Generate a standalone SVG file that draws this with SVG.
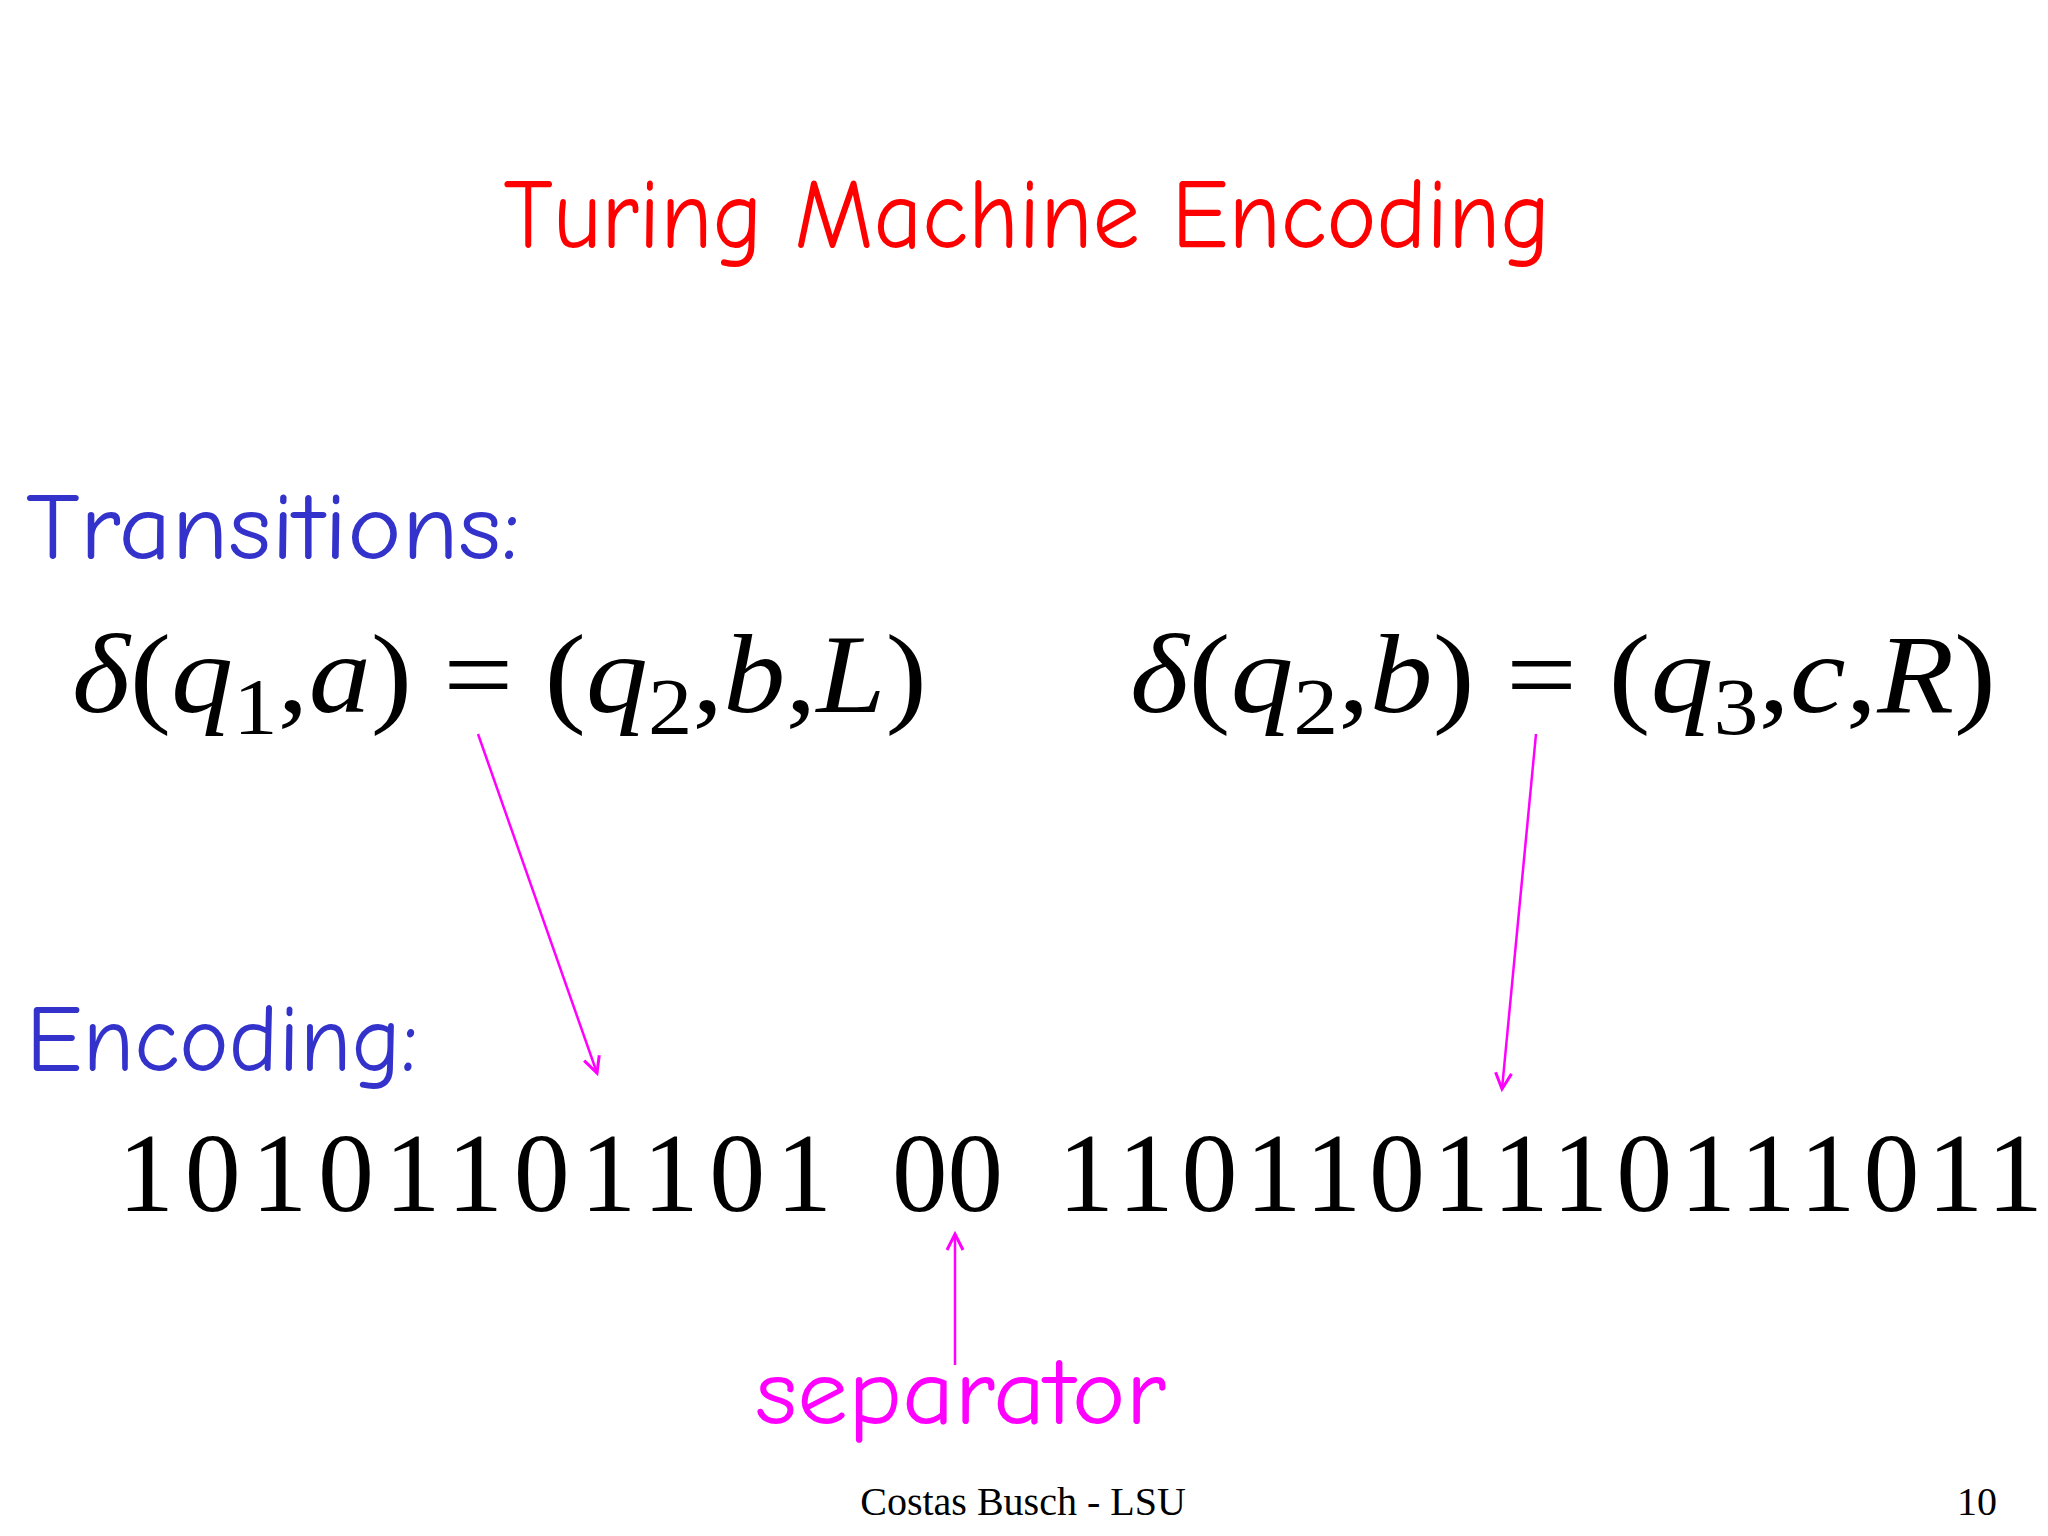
<svg xmlns="http://www.w3.org/2000/svg" width="2048" height="1536" viewBox="0 0 2048 1536">
<defs>
<marker id="ah" markerWidth="22" markerHeight="22" refX="18" refY="11" orient="auto" markerUnits="userSpaceOnUse" viewBox="0 0 22 22">
<path d="M2,3 L18,11 L2,19" fill="none" stroke="#ff00ff" stroke-width="3"/>
</marker>
<style>
.hand{font-family:"Comic Neue","Lato","Open Sans",sans-serif}
.m{font-family:"Liberation Serif",serif;font-style:italic;font-size:112px;fill:#000}
.up{font-style:normal}
.sub{font-size:80px;font-style:normal}
.bin{font-family:"Liberation Serif",serif;font-size:112px;fill:#000}
</style>
</defs>
<rect width="2048" height="1536" fill="#fff"/>
<g id="title"><text class="hand" x="1027" y="248" font-size="100" fill="#ff0000" text-anchor="middle" textLength="1047" lengthAdjust="spacingAndGlyphs">Turing Machine Encoding</text></g>
<g id="transitions"><text class="hand" x="26" y="559" font-size="96" fill="#3333cc" textLength="494" lengthAdjust="spacingAndGlyphs">Transitions:</text></g>
<g id="t1"><text class="m" x="72" y="712" textLength="855" lengthAdjust="spacingAndGlyphs">δ<tspan class="up">(</tspan>q<tspan class="sub" dy="22">1</tspan><tspan class="up" dy="-22">,</tspan>a<tspan class="up">) = (</tspan>q<tspan class="sub" dy="22">2</tspan><tspan class="up" dy="-22">,</tspan>b<tspan class="up">,</tspan>L<tspan class="up">)</tspan></text></g>
<g id="t2"><text class="m" x="1130" y="712" textLength="866" lengthAdjust="spacingAndGlyphs">δ<tspan class="up">(</tspan>q<tspan class="sub" dy="22">2</tspan><tspan class="up" dy="-22">,</tspan>b<tspan class="up">) = (</tspan>q<tspan class="sub" dy="22">3</tspan><tspan class="up" dy="-22">,</tspan>c<tspan class="up">,</tspan>R<tspan class="up">)</tspan></text></g>
<g id="encoding"><text class="hand" x="26" y="1071" font-size="96" fill="#3333cc" textLength="392" lengthAdjust="spacingAndGlyphs">Encoding:</text></g>
<g id="binary">
<text class="bin" x="118" y="1211" textLength="714" lengthAdjust="spacing">10101101101</text>
<text class="bin" x="892" y="1211" textLength="111" lengthAdjust="spacingAndGlyphs">00</text>
<text class="bin" x="1058" y="1211" textLength="985" lengthAdjust="spacing">1101101110111011</text>
</g>
<g id="separator"><text class="hand" x="755" y="1424" font-size="96" fill="#ff00ff" textLength="411" lengthAdjust="spacingAndGlyphs">separator</text></g>
<g id="connectors" stroke="#ff00ff" stroke-width="2.5" fill="none">
<line x1="478" y1="734" x2="597" y2="1073" marker-end="url(#ah)"/>
<line x1="1536" y1="734" x2="1502" y2="1089" marker-end="url(#ah)"/>
<line x1="955" y1="1365" x2="955" y2="1234" marker-end="url(#ah)"/>
</g>
<g id="footer" font-family="Liberation Serif,serif" font-size="40" fill="#000">
<text x="1023" y="1515" text-anchor="middle">Costas Busch - LSU</text>
<text x="1957" y="1515">10</text>
</g>
</svg>
